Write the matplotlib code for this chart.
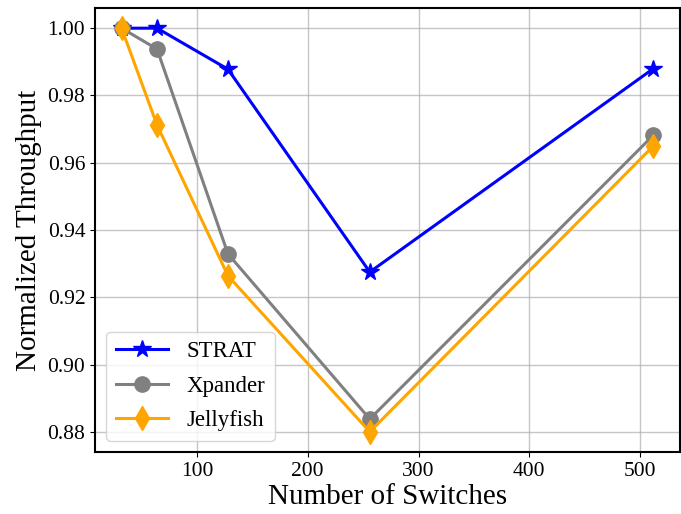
import matplotlib

matplotlib.use("Agg")

import matplotlib.pyplot as plt

plt.rcParams["font.family"] = ["Liberation Serif", "DejaVu Serif"]

switches = [32, 64, 128, 256, 512]
strat = [1.0, 1.0, 0.9878, 0.9275, 0.988]
xpander = [1.0, 0.9938, 0.9329, 0.8838, 0.9682]
jellyfish = [1.0, 0.9712, 0.9264, 0.8800, 0.9650]

fig = plt.figure(figsize=(6.81, 5.14), dpi=100)
ax = fig.add_axes([95 / 681, 62 / 514, 585 / 681, 444 / 514])

ax.plot(switches, strat, color="blue", marker="*", markersize=13,
        linewidth=2.2, label="STRAT")
ax.plot(switches, xpander, color="gray", marker="o", markersize=11,
        linewidth=2.2, label="Xpander")
ax.plot(switches, jellyfish, color="orange", marker="d", markersize=12,
        linewidth=2.2, label="Jellyfish")

ax.grid(True, color="#a8a8a8", alpha=0.65, linewidth=1)
ax.set_axisbelow(True)
ax.set_yticks([0.88, 0.90, 0.92, 0.94, 0.96, 0.98, 1.00])
ax.yaxis.set_major_formatter(matplotlib.ticker.FormatStrFormatter("%.2f"))
ax.tick_params(labelsize=15.5)
for spine in ax.spines.values():
    spine.set_linewidth(1.5)

ax.set_xlabel("Number of Switches", fontsize=21, labelpad=2)
ax.set_ylabel("Normalized Throughput", fontsize=21, labelpad=4)
ax.legend(loc="lower left", fontsize=16.5, handlelength=2.3,
          labelspacing=0.6)

fig.savefig("out.png", dpi=100)
